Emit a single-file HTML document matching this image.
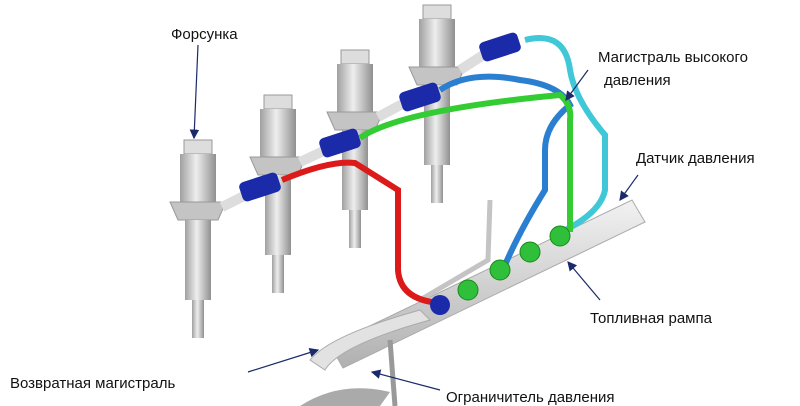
<!DOCTYPE html>
<html><head><meta charset="utf-8"><style>
html,body{margin:0;padding:0;background:#fff;}
svg{display:block}
text{font-family:"Liberation Sans",sans-serif;font-size:15px;fill:#111;}
</style></head><body>
<svg width="800" height="406" viewBox="0 0 800 406">
<defs>
<linearGradient id="g" x1="0" x2="1"><stop offset="0" stop-color="#a0a0a0"/><stop offset=".45" stop-color="#eeeeee"/><stop offset="1" stop-color="#909090"/></linearGradient>
<linearGradient id="r" x1="0" x2="0" y1="0" y2="1"><stop offset="0" stop-color="#f2f2f2"/><stop offset="1" stop-color="#b0b0b0"/></linearGradient>
<marker id="a" markerWidth="8" markerHeight="8" refX="7" refY="4" orient="auto"><path d="M0,0 L8,4 L0,8z" fill="#1a2a6a"/></marker>
<g id="inj">
<rect x="-14" y="0" width="28" height="14" fill="#ddd" stroke="#999"/>
<rect x="-18" y="14" width="36" height="48" fill="url(#g)"/>
<path d="M-28,62 L28,62 L20,80 L-20,80z" fill="#c4c4c4" stroke="#999"/>
<rect x="-13" y="80" width="26" height="80" fill="url(#g)"/>
<rect x="-6" y="160" width="12" height="38" fill="url(#g)"/>
</g>
</defs>
<!-- rail -->
<path d="M330,345 L632,200 L645,222 L343,368z" fill="url(#r)" stroke="#aaa"/>
<path d="M310,360 Q330,335 420,310 L430,320 Q340,345 325,370z" fill="#e2e2e2" stroke="#aaa"/>
<path d="M390,340 L395,406" stroke="#999" stroke-width="5"/>
<path d="M490,200 L488,260 L420,300" stroke="#c4c4c4" stroke-width="5" fill="none"/>
<path d="M300,406 Q340,380 390,392 L380,406z" fill="#aaa"/>
<!-- injectors -->
<use href="#inj" x="437" y="5"/>
<use href="#inj" x="355" y="50"/>
<use href="#inj" x="278" y="95"/>
<use href="#inj" x="198" y="140"/>
<!-- side tubes -->
<g stroke="#ddd" stroke-width="10">
<path d="M222,207 L250,193"/><path d="M300,162 L330,148"/><path d="M378,117 L408,101"/><path d="M460,70 L488,52"/>
</g>
<!-- pipes -->
<path d="M525,40 Q565,30 570,70 Q575,100 605,135 L605,190 Q600,215 555,235" stroke="#40c8d8" stroke-width="6" fill="none"/>
<path d="M440,90 Q470,70 520,80 Q560,85 570,105 Q545,125 545,150 L545,190 Q520,230 505,265" stroke="#2a7fd0" stroke-width="6" fill="none"/>
<path d="M360,138 Q400,110 560,95 Q572,105 570,120 L570,232" stroke="#33cc33" stroke-width="6" fill="none"/>
<path d="M282,180 Q330,160 355,163 L398,190 L398,270 Q400,300 440,303" stroke="#dd1a1a" stroke-width="6" fill="none"/>
<!-- connectors -->
<g fill="#1a2aa8">
<rect x="240" y="177" width="40" height="20" rx="5" transform="rotate(-18 260 187)"/>
<rect x="320" y="133" width="40" height="20" rx="5" transform="rotate(-18 340 143)"/>
<rect x="400" y="87" width="40" height="20" rx="5" transform="rotate(-18 420 97)"/>
<rect x="480" y="37" width="40" height="20" rx="5" transform="rotate(-18 500 47)"/>
<ellipse cx="440" cy="305" rx="10" ry="10"/>
</g>
<g fill="#2fbf3a" stroke="#1a8a1a">
<ellipse cx="468" cy="290" rx="10" ry="10"/><ellipse cx="500" cy="270" rx="10" ry="10"/>
<ellipse cx="530" cy="252" rx="10" ry="10"/><ellipse cx="560" cy="236" rx="10" ry="10"/>
</g>
<!-- labels -->
<g stroke="#1a2a6a" stroke-width="1.2" fill="none">
<path d="M198,45 L194,138" marker-end="url(#a)"/>
<path d="M588,70 L566,100" marker-end="url(#a)"/>
<path d="M638,175 L620,200" marker-end="url(#a)"/>
<path d="M600,300 L568,262" marker-end="url(#a)"/>
<path d="M248,372 L318,350" marker-end="url(#a)"/>
<path d="M440,390 L372,372" marker-end="url(#a)"/>
</g>
<text x="171" y="39">Форсунка</text>
<text x="598" y="62">Магистраль высокого</text>
<text x="604" y="85">давления</text>
<text x="636" y="163">Датчик давления</text>
<text x="590" y="323">Топливная рампа</text>
<text x="10" y="388">Возвратная магистраль</text>
<text x="446" y="402">Ограничитель давления</text>
</svg>
</body></html>
